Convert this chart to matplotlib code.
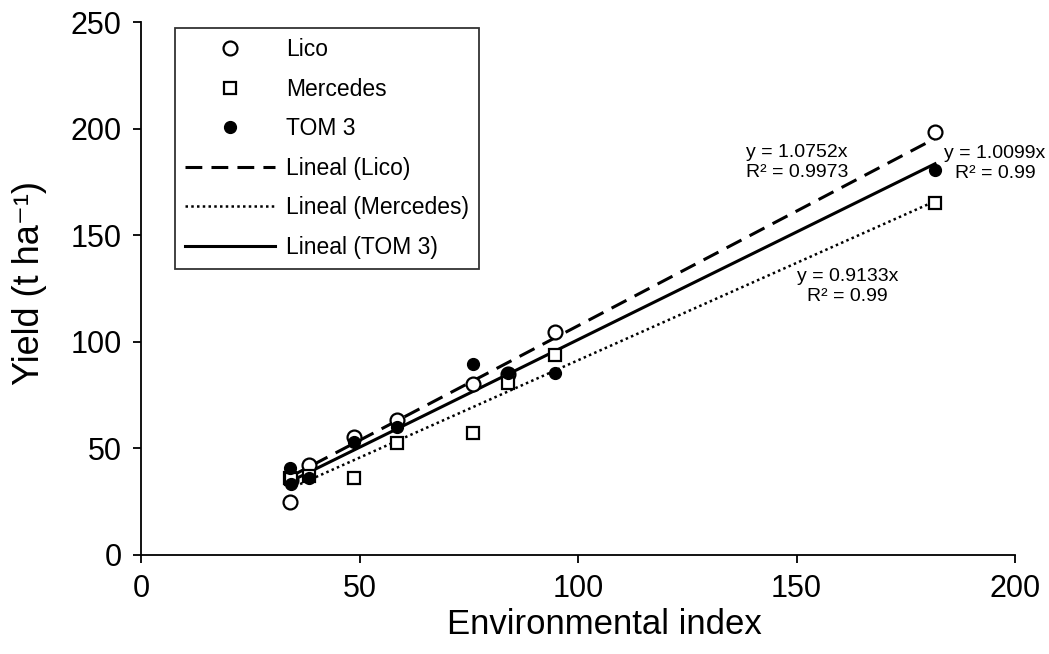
import matplotlib
matplotlib.use("Agg")
import matplotlib.pyplot as plt
import numpy as np

# environmental index and yields per genotype (t/ha)
env_index = [34.0, 34.4, 38.5, 48.7, 58.5, 76.0, 84.0, 94.7, 181.7]
lico = [25.0, 35.0, 42.0, 55.3, 63.3, 80.1, 85.0, 104.6, 198.2]
mercedes = [36.0, 35.5, 37.0, 36.0, 52.6, 57.3, 80.5, 93.7, 165.0]
tom3 = [41.0, 33.5, 36.0, 53.0, 60.0, 89.8, 85.4, 85.4, 180.4]

# regression through origin (slope, R2) as printed on the chart
slope_lico, r2_lico = 1.0752, "0.9973"
slope_merc, r2_merc = 0.9133, "0.99"
slope_tom, r2_tom = 1.0099, "0.99"

xticks = [0, 50, 100, 150, 200]
yticks = [0, 50, 100, 150, 200, 250]

plt.rcParams.update({
    "font.family": ["Liberation Sans", "DejaVu Sans"],
})

fig = plt.figure(figsize=(10.49, 6.54), dpi=100)
ax = fig.add_axes([141 / 1049, 1 - 555 / 654, 874 / 1049, 533 / 654])

x = np.array(env_index)
ax.plot(x, lico, "o", ms=10, mfc="white", mec="black", mew=1.6, label="Lico", zorder=3)
ax.plot(x, mercedes, "s", ms=8.5, mfc="white", mec="black", mew=1.6, label="Mercedes", zorder=3)
ax.plot(x, tom3, "o", ms=8.5, mfc="black", mec="black", label="TOM 3", zorder=4)

xl = np.array([x.min(), x.max()])
ax.plot(xl, slope_lico * xl, color="black", lw=2.2, linestyle=(0, (5.5, 3)), label="Lineal (Lico)")
ax.plot(xl, slope_merc * xl, color="black", lw=1.8, linestyle=(0, (1, 1.3)), label="Lineal (Mercedes)")
ax.plot(xl, slope_tom * xl, color="black", lw=2.2, label="Lineal (TOM 3)")

# equation labels
ax.text(150.1, 184, f"y = {slope_lico}x\nR² = {r2_lico}", ha="center", va="center", fontsize=14, linespacing=1.2)
ax.text(195.4, 183.7, f"y = {slope_tom}x\nR² = {r2_tom}", ha="center", va="center", fontsize=14,
        linespacing=1.2, clip_on=False)
ax.text(161.6, 126, f"y = {slope_merc}x\nR² = {r2_merc}", ha="center", va="center", fontsize=14, linespacing=1.2)

ax.set_xlim(0, 200)
ax.set_ylim(0, 250)
ax.set_xticks(xticks)
ax.set_yticks(yticks)
ax.tick_params(labelsize=22, length=6, width=1.3, pad=8, direction="out")
for s in ["top", "right"]:
    ax.spines[s].set_visible(False)
for s in ["left", "bottom"]:
    ax.spines[s].set_linewidth(1.3)

ax.set_xlabel("Environmental index", fontsize=25)
ax.set_ylabel("Yield (t ha⁻¹)", fontsize=26)
ax.xaxis.set_label_coords(0.53, -0.1)
ax.yaxis.set_label_coords(-0.108, 0.51)

leg = ax.legend(loc="upper left", bbox_to_anchor=(175 / 1049, 1 - 28 / 654), bbox_transform=fig.transFigure,
                borderaxespad=0, fontsize=16.5, handlelength=3.9, labelspacing=0.72, fancybox=False,
                edgecolor="#333333", framealpha=1, borderpad=0.45, handletextpad=0.5)
leg.get_frame().set_linewidth(1.3)

fig.savefig("out.png", dpi=100)
